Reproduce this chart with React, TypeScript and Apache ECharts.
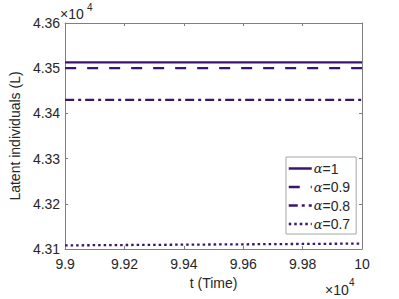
import React, { useEffect, useRef } from "react";
import * as echarts from "echarts";

const seriesNames = ["α=1", "α=0.9", "α=0.8", "α=0.7"];
const alpha1: [number, number][] = [[99000, 43513], [100000, 43513]];
const alpha09: [number, number][] = [[99000, 43500], [100000, 43500]];
const alpha08: [number, number][] = [[99000, 43430], [100000, 43430]];
const alpha07: [number, number][] = [[99000, 43108], [100000, 43112]];
const seriesData = [alpha1, alpha09, alpha08, alpha07];
const lineTypes: any[] = ["solid", [11, 11], [9, 4, 3, 4], [2.5, 3]];

const COLOR = "#3b1470";
const AXIS = "#7f7f7f";
const TEXT = "#262626";
const FONT = "Liberation Sans, Arial, sans-serif";

export default function App() {
  const ref = useRef<HTMLDivElement>(null);
  useEffect(() => {
    const chart = echarts.init(ref.current!, undefined, { renderer: "svg" });
    const fmt = (v: number) => String(parseFloat((v / 10000).toFixed(2)));
    const axisCommon = {
      axisLine: { show: true, lineStyle: { color: AXIS, width: 1 } },
      axisTick: { show: true, inside: true, length: 3, lineStyle: { color: AXIS } },
      splitLine: { show: false },
    };
    chart.setOption({
      animation: false,
      backgroundColor: "#ffffff",
      grid: { left: 58, right: 37, top: 23, bottom: 50 },
      xAxis: [
        {
          type: "value",
          min: 99000,
          max: 100000,
          interval: 200,
          ...axisCommon,
          axisLabel: { formatter: fmt, color: TEXT, fontSize: 14, fontFamily: FONT, margin: 8 },
          name: "t (Time)",
          nameLocation: "middle",
          nameGap: 25,
          nameTextStyle: { color: TEXT, fontSize: 14, fontFamily: FONT },
        },
        {
          type: "value",
          position: "top",
          min: 99000,
          max: 100000,
          interval: 200,
          ...axisCommon,
          axisLabel: { show: false },
        },
      ],
      yAxis: [
        {
          type: "value",
          min: 43100,
          max: 43600,
          interval: 100,
          ...axisCommon,
          axisLabel: {
            formatter: (v: number) => (v / 10000).toFixed(2),
            color: TEXT,
            fontSize: 14,
            fontFamily: FONT,
            margin: 5,
          },
          name: "Latent individuals (L)",
          nameLocation: "middle",
          nameGap: 42,
          nameTextStyle: { color: TEXT, fontSize: 14, fontFamily: FONT },
        },
        {
          type: "value",
          position: "right",
          min: 43100,
          max: 43600,
          interval: 100,
          ...axisCommon,
          axisLabel: { show: false },
        },
      ],
      legend: {
        orient: "vertical",
        left: 286,
        top: 157,
        width: 68,
        padding: [4.5, 6, 3, 1.5],
        itemWidth: 23,
        itemHeight: 14,
        itemGap: 4.5,
        borderColor: "#a6a6a6",
        borderWidth: 1,
        backgroundColor: "#ffffff",
        itemStyle: { opacity: 0 },
        lineStyle: { width: 2.5 },
        data: seriesNames,
        formatter: (name: string) => "{a|α}{b|" + name.slice(1) + "}",
        textStyle: {
          padding: [0, 0, 0, -3],
          rich: {
            a: { fontFamily: "DejaVu Serif, serif", fontStyle: "italic", fontSize: 13, color: TEXT },
            b: { fontFamily: FONT, fontSize: 14, color: TEXT },
          },
        },
      },
      series: seriesData.map((d, i) => ({
        name: seriesNames[i],
        type: "line",
        data: d,
        symbol: "none",
        showSymbol: false,
        lineStyle: { color: COLOR, width: 2.3, type: lineTypes[i] },
        itemStyle: { color: COLOR },
        z: 3,
      })),
      graphic: [
        { type: "text", left: 60, top: 7, style: { text: "×10", fontSize: 14, fontFamily: FONT, fill: TEXT } },
        { type: "text", left: 87, top: 2, style: { text: "4", fontSize: 10, fontFamily: FONT, fill: TEXT } },
        { type: "text", left: 325, top: 283, style: { text: "×10", fontSize: 14, fontFamily: FONT, fill: TEXT } },
        { type: "text", left: 349, top: 277, style: { text: "4", fontSize: 10, fontFamily: FONT, fill: TEXT } },
      ],
    });
    return () => chart.dispose();
  }, []);
  return <div ref={ref} style={{ width: 399, height: 299, position: "absolute", left: 0, top: 0 }} />;
}
